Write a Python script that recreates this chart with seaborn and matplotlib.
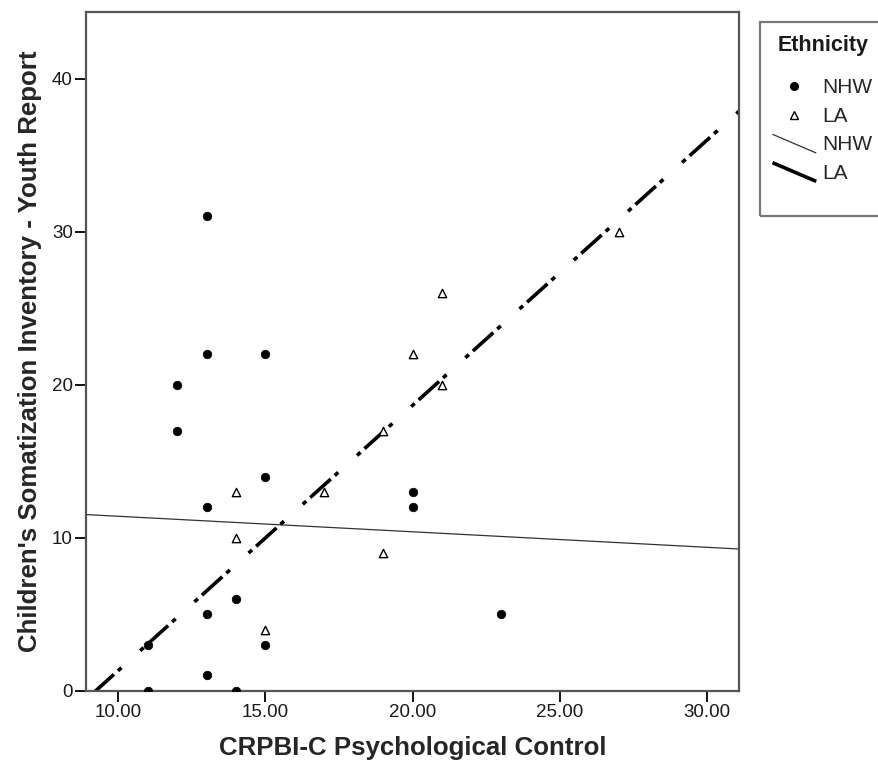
import matplotlib
matplotlib.use('Agg')
import matplotlib.pyplot as plt
from matplotlib.lines import Line2D
from matplotlib.patches import Rectangle
from matplotlib.legend_handler import HandlerBase
import seaborn as sns
import pandas as pd

# CRPBI-C psychological control vs. somatization, by ethnicity
nhw_x = [13, 13, 15, 12, 12, 15, 13, 20, 20, 14, 13, 15, 11, 13, 11, 14, 23]
nhw_y = [31, 22, 22, 20, 17, 14, 12, 13, 12, 6, 5, 3, 3, 1, 0, 0, 5]
la_x = [27, 21, 20, 21, 19, 14, 17, 14, 19, 15]
la_y = [30, 26, 22, 20, 17, 13, 13, 10, 9, 4]

x_ticks = [10, 15, 20, 25, 30]
x_tick_labels = ['10.00', '15.00', '20.00', '25.00', '30.00']
y_ticks = [0, 10, 20, 30, 40]

nhw = pd.DataFrame({'x': nhw_x, 'y': nhw_y, 'Ethnicity': 'NHW'})
la = pd.DataFrame({'x': la_x, 'y': la_y, 'Ethnicity': 'LA'})

sns.set_style('white')
plt.rcParams['font.family'] = ['Liberation Sans', 'DejaVu Sans']


class DiagHandler(HandlerBase):
    """Legend handle drawn as a sloping line like SPSS does."""
    def create_artists(self, legend, orig_handle, xdescent, ydescent,
                       width, height, fontsize, trans):
        ln = Line2D([-xdescent, width - xdescent],
                    [height - ydescent + 1, -ydescent - 2],
                    color=orig_handle.get_color(),
                    linewidth=orig_handle.get_linewidth(),
                    solid_capstyle='butt')
        ln.set_transform(trans)
        return [ln]


fig = plt.figure(figsize=(8.79, 7.70), dpi=100)
ax = fig.add_axes([86 / 879, 1 - 690.7 / 770, (739.5 - 86) / 879, (690.7 - 12) / 770])
ax.set_xlim(8.90, 31.11)
ax.set_ylim(0, 44.36)

# fit lines (drawn first so markers sit on top)
sns.regplot(data=nhw, x='x', y='y', scatter=False, ci=None, truncate=False,
            ax=ax, line_kws={'color': '#333333', 'linewidth': 0.9})
sns.regplot(data=la, x='x', y='y', scatter=False, ci=None, truncate=False,
            ax=ax, line_kws={'color': 'black', 'linewidth': 2.6,
                             'linestyle': (0, (1.3, 1.5, 7.6, 1.5, 1.3, 7.0)),
                             'dash_capstyle': 'butt'})

sns.scatterplot(data=nhw, x='x', y='y', ax=ax, marker='o', s=38,
                color='black', edgecolor='black', linewidth=0.5, zorder=3)
sns.scatterplot(data=la, x='x', y='y', ax=ax, marker='^', s=36,
                facecolor='white', edgecolor='black', linewidth=1.0, zorder=3)

ax.set_xlim(8.90, 31.11)
ax.set_ylim(0, 44.36)
ax.set_xticks(x_ticks)
ax.set_xticklabels(x_tick_labels)
ax.set_yticks(y_ticks)
ax.tick_params(axis='both', direction='out', length=8, width=1.3,
               color='black', pad=1.5, labelsize=13.5, labelcolor='#1a1a1a',
               bottom=True, left=True)
for sp in ax.spines.values():
    sp.set_color('#555555')
    sp.set_linewidth(1.6)

ax.set_xlabel('CRPBI-C Psychological Control', fontsize=18.6, fontweight='bold',
              labelpad=11)
ax.set_ylabel("Children's Somatization Inventory - Youth Report", fontsize=18.6,
              fontweight='bold', labelpad=7)

handles = [
    Line2D([], [], marker='o', linestyle='none', color='black', markersize=5.5),
    Line2D([], [], marker='^', linestyle='none', markerfacecolor='white',
           markeredgecolor='black', markersize=5.5),
    Line2D([], [], color='#333333', linewidth=0.9),
    Line2D([], [], color='black', linewidth=2.6),
]
labels = ['NHW', 'LA', 'NHW', 'LA']
leg = fig.legend(handles, labels, loc='upper left',
                 bbox_to_anchor=(760 / 879, 1 - 66 / 770), frameon=False,
                 fontsize=15, handlelength=2.1, handletextpad=0.3,
                 labelspacing=0.45, borderpad=0.1,
                 handler_map={handles[2]: DiagHandler(),
                              handles[3]: DiagHandler()})
fig.text(778 / 879, 1 - 45 / 770, 'Ethnicity', fontsize=15.5,
         fontweight='bold', va='center', ha='left', color='#1a1a1a')

# legend box, runs off the right edge like the original
fig.patches.append(Rectangle((760 / 879, 1 - 216 / 770), 0.3, (216 - 22) / 770,
                             transform=fig.transFigure, fill=False,
                             edgecolor='#777777', linewidth=1.6))

fig.savefig('out.png', dpi=100)
